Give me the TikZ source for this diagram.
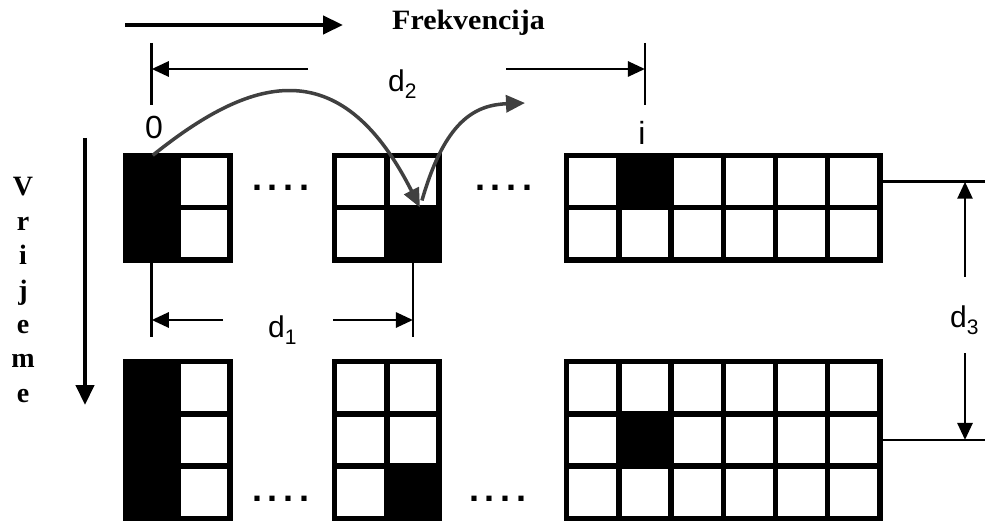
\documentclass[tikz,border=0pt]{standalone}
\usepackage{fontspec}
\setmainfont{Liberation Serif}
\setsansfont{Liberation Sans}
\usetikzlibrary{arrows.meta,calc}
\newcommand{\mkgrid}[5]{%
  \fill[black] (#2,#3) rectangle ++({#4*52.2+5.3},{#5*52.2+5.3});
  \foreach \cc in {1,...,#4}{\foreach \rr in {1,...,#5}{
    \node[cell] (#1-\rr-\cc) at ({#2+28.75+(\cc-1)*52.2},{#3+28.75+(\rr-1)*52.2}) {};
  }}%
}
\newcommand{\blk}[1]{\fill[black] (#1.south west) rectangle (#1.north east);}
\newcommand{\dsub}[1]{\raisebox{-7pt}{\fontsize{21}{21}\selectfont #1}}
\newcommand{\fourdots}{\makebox[15.7pt]{.}\makebox[15.7pt]{.}\makebox[15.7pt]{.}\makebox[15.7pt]{.}}
\tikzset{
  cell/.style={fill=white, draw=none, minimum size=46.9pt, inner sep=0pt, outer sep=0pt},
  dim/.style={line width=2.7pt, -{Triangle[length=17pt,width=15pt]}},
  tickline/.style={line width=2.7pt},
  bigarrow/.style={line width=4.5pt, -{Triangle[length=20pt,width=18pt]}},
  curvearrow/.style={draw=curvegray, line width=3.5pt},
  lbl/.style={font=\sffamily\fontsize{30}{30}\selectfont, inner sep=0pt, anchor=base west},
  numlbl/.style={font=\sffamily\fontsize{32}{32}\selectfont, inner sep=0pt, anchor=base},
  serifbold/.style={font=\bfseries\fontsize{28}{28}\selectfont, inner sep=0pt},
  dotsstyle/.style={font=\sffamily\bfseries\fontsize{36}{36}\selectfont, inner sep=0pt, anchor=base west},
}
\definecolor{curvegray}{HTML}{404040}
\begin{document}
\begin{tikzpicture}[x=1pt,y=-1pt]
\useasboundingbox (0,0) rectangle (985,521);
\clip (0,0) rectangle (985,521);
\fill[white] (0,0) rectangle (985,521);

% grids
\mkgrid{A}{123}{153}{2}{2}
\blk{A-1-1}\blk{A-2-1}
\mkgrid{B}{332}{153}{2}{2}
\blk{B-2-2}
\mkgrid{C}{564}{153}{6}{2}
\blk{C-1-2}
\mkgrid{D}{123}{359}{2}{3}
\blk{D-1-1}\blk{D-2-1}\blk{D-3-1}
\mkgrid{E}{332}{359}{2}{3}
\blk{E-3-2}
\mkgrid{F}{564}{359}{6}{3}
\blk{F-2-2}

% dots
\node[dotsstyle] (dt1) at (249.15,190.5) {\fourdots};
\node[dotsstyle] (dt2) at (472.15,190.5) {\fourdots};
\node[dotsstyle] (dt3) at (249.15,501.5) {\fourdots};
\node[dotsstyle] (dt4) at (466.15,501.5) {\fourdots};

% frequency axis
\coordinate (fa) at (125,25);
\coordinate (fb) at (343,25);
\draw[bigarrow] (fa) -- (fb);
\node[serifbold, anchor=base west] (frek) at (392,30) {\scalebox{1.07}[1]{Frekvencija}};

% time axis
\coordinate (ta) at (85,138);
\coordinate (tb) at (85,405);
\draw[bigarrow] (ta) -- (tb);
\foreach \ll/\yy [count=\k] in {V/196, r/231, i/265, j/299, e/333, m/367, e/402}{
  \node[serifbold, anchor=base] (vr\k) at (23,\yy) {\ll};
}

% d2
\coordinate (d2y) at (0,69);
\coordinate (d2L) at (A-1-1.center |- d2y);
\coordinate (d2R) at (C-1-2.center |- d2y);
\draw[tickline] ($(d2L)+(0,-26)$) -- ($(d2L)+(0,36)$);
\draw[tickline] ($(d2R)+(0,-26)$) -- ($(d2R)+(0,36)$);
\coordinate (d2a) at (308,69);
\coordinate (d2b) at (506,69);
\draw[dim] (d2a) -- (d2L);
\draw[dim] (d2b) -- (d2R);
\node[lbl] (d2) at (388,92) {d\dsub{2}};
\node[numlbl] (lab0) at (154,139) {0};
\node[numlbl] (labi) at (642,145) {i};

% d1
\coordinate (d1y) at (0,320);
\coordinate (d1L) at (A-2-1.center |- d1y);
\coordinate (d1R) at (B-2-2.center |- d1y);
\draw[tickline] (A-2-1.south) -- ($(d1L)+(0,17)$);
\draw[tickline] (B-2-2.south) -- ($(d1R)+(0,17)$);
\coordinate (d1a) at (223,320);
\coordinate (d1b) at (333,320);
\draw[dim] (d1a) -- (d1L);
\draw[dim] (d1b) -- (d1R);
\node[lbl] (d1) at (268,337) {d\dsub{1}};

% d3
\coordinate (edgeR) at (990,0);
\coordinate (d3x) at (965,0);
\draw[tickline] (C-1-6.east) -- (C-1-6.east -| edgeR);
\draw[tickline] (F-2-6.east) -- (F-2-6.east -| edgeR);
\coordinate (d3top) at (d3x |- C-1-6.center);
\coordinate (d3bot) at (d3x |- F-2-6.center);
\coordinate (d3a) at (965,277);
\coordinate (d3b) at (965,353);
\draw[dim] (d3a) -- (d3top);
\draw[dim] (d3b) -- (d3bot);
\node[lbl] (d3) at (950,327) {d\dsub{3}};

% curved arrows
\coordinate (c1s) at ($(A-1-1.north)+(1,-3)$);
\coordinate (c1e) at ($(B-2-2.north)+(7,-3)$);
\draw[curvearrow, -{Triangle[length=19pt,width=16pt]}] (c1s) .. controls +(96,-77) and +(-81,-160) .. (c1e);
\coordinate (c2s) at ($(B-2-2.north)+(9,-10)$);
\coordinate (c2e) at (525,103);
\draw[curvearrow, -{Triangle[length=19pt,width=17pt]}] (c2s) .. controls +(23,-80) and +(-50,2) .. (c2e);
\end{tikzpicture}
\end{document}
